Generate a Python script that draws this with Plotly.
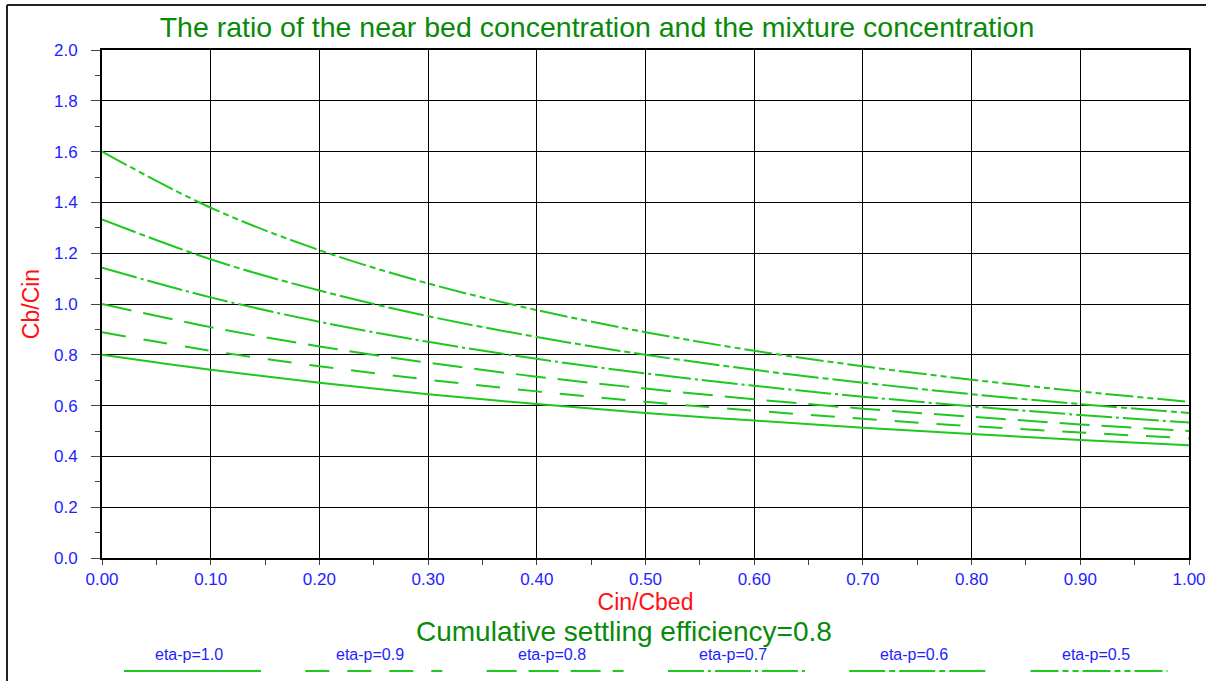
import plotly.graph_objects as go

# Cin/Cbed values read at every 0.1
cin_cbed = [0.0, 0.1, 0.2, 0.3, 0.4, 0.5, 0.6, 0.7, 0.8, 0.9, 1.0]

# Cb/Cin
eta_p_10 = [0.800, 0.741, 0.690, 0.645, 0.606, 0.571, 0.541, 0.513, 0.488, 0.465, 0.444]
eta_p_09 = [0.889, 0.816, 0.755, 0.702, 0.656, 0.615, 0.580, 0.548, 0.519, 0.494, 0.471]
eta_p_08 = [1.000, 0.909, 0.833, 0.769, 0.714, 0.667, 0.625, 0.588, 0.556, 0.526, 0.500]
eta_p_07 = [1.143, 1.026, 0.930, 0.851, 0.784, 0.727, 0.678, 0.635, 0.597, 0.563, 0.533]
eta_p_06 = [1.333, 1.176, 1.053, 0.952, 0.870, 0.800, 0.741, 0.690, 0.645, 0.606, 0.571]
eta_p_05 = [1.600, 1.379, 1.212, 1.081, 0.976, 0.889, 0.816, 0.755, 0.702, 0.656, 0.615]

series_names = ["eta-p=1.0", "eta-p=0.9", "eta-p=0.8", "eta-p=0.7", "eta-p=0.6", "eta-p=0.5"]
series_vals = [eta_p_10, eta_p_09, eta_p_08, eta_p_07, eta_p_06, eta_p_05]

dashes = ["solid", "24px,18px", "30px,12px", "36px,4px,3px,4px",
          "36px,4px,6px,4px", "28px,4px,6px,4px,6px,4px"]

GREEN = "#1ec81e"
DARKGREEN = "#0a8a0a"
BLUE = "#1e1eff"
RED = "#ff1010"
FONT = "Liberation Sans, Arial, sans-serif"

W, H = 1206, 681
L, R, T, B = 102, 17, 50, 123
pw, ph = W - L - R, H - T - B


def px(x):
    return (x - L) / pw


def py(y):
    return (H - B - y) / ph


fig = go.Figure()
for name, vals, d in zip(series_names, series_vals, dashes):
    fig.add_trace(go.Scatter(
        x=cin_cbed, y=vals, name=name, mode="lines",
        line=dict(color=GREEN, width=2, dash=d, shape="spline"),
        showlegend=False))

shapes = []
annotations = []
# hand-made legend: label above a line sample
for i, (name, d) in enumerate(zip(series_names, dashes)):
    x0 = 124 + 181.3 * i
    shapes.append(dict(type="line", xref="paper", yref="paper",
                       x0=px(x0), x1=px(x0 + 137), y0=py(671), y1=py(671),
                       line=dict(color=GREEN, width=2, dash=d)))
    annotations.append(dict(text=name, xref="paper", yref="paper",
                            x=px(x0 + 65), y=py(654), showarrow=False,
                            xanchor="center", yanchor="middle",
                            font=dict(family=FONT, size=16, color=BLUE)))

annotations.append(dict(text="Cumulative settling efficiency=0.8",
                        xref="paper", yref="paper", x=px(624), y=py(631),
                        showarrow=False, xanchor="center", yanchor="middle",
                        font=dict(family=FONT, size=28, color=DARKGREEN)))

# outer frame (left and top only visible)
shapes.append(dict(type="line", xref="paper", yref="paper",
                   x0=px(7), x1=px(7), y0=py(5), y1=py(700),
                   line=dict(color="#222", width=2)))
shapes.append(dict(type="line", xref="paper", yref="paper",
                   x0=px(7), x1=px(1210), y0=py(5), y1=py(5),
                   line=dict(color="#222", width=2)))

fig.update_layout(
    width=W, height=H,
    margin=dict(l=L, r=R, t=T, b=B),
    paper_bgcolor="white", plot_bgcolor="white",
    font=dict(family=FONT),
    title=dict(text="The ratio of the near bed concentration and the mixture concentration",
               x=0.495, xanchor="center", y=1 - 27 / H, yanchor="middle",
               font=dict(family=FONT, size=28.5, color=DARKGREEN)),
    shapes=shapes, annotations=annotations,
)

fig.update_xaxes(
    range=[0, 1], dtick=0.1, tick0=0, tickformat=".2f", automargin=False,
    showgrid=True, gridcolor="black", gridwidth=1,
    showline=True, linecolor="black", linewidth=2, mirror=True,
    ticks="outside", ticklen=5, tickcolor="#444", ticklabelstandoff=0,
    tickfont=dict(family=FONT, size=17, color=BLUE),
    minor=dict(dtick=0.05, ticks="outside", ticklen=5, tickcolor="#444", showgrid=False),
    zeroline=False,
    title=dict(text="Cin/Cbed", standoff=1, font=dict(family=FONT, size=23, color=RED)),
)
fig.update_yaxes(
    range=[0, 2], dtick=0.2, tick0=0, tickformat=".1f", automargin=False,
    showgrid=True, gridcolor="black", gridwidth=1,
    showline=True, linecolor="black", linewidth=2, mirror=True,
    ticks="outside", ticklen=9, tickcolor="#444", ticklabelstandoff=10,
    tickfont=dict(family=FONT, size=17, color=BLUE),
    minor=dict(dtick=0.1, ticks="outside", ticklen=5, tickcolor="#444", showgrid=False),
    zeroline=False,
    title=dict(text="Cb/Cin", standoff=8, font=dict(family=FONT, size=23, color=RED)),
)

fig.write_html("out.html", config={"displayModeBar": False},
               post_script="document.body.style.margin='0';")
